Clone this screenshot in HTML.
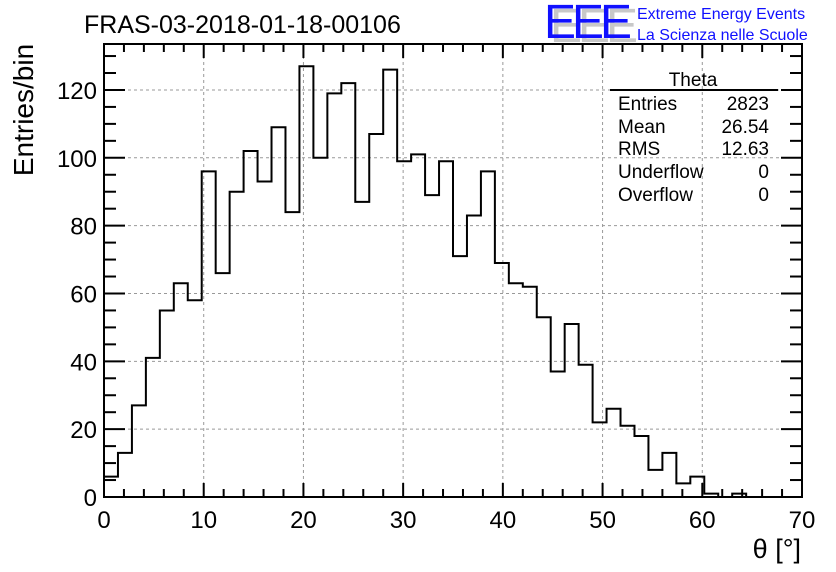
<!DOCTYPE html>
<html><head><meta charset="utf-8"><style>
html,body{margin:0;padding:0;background:#fff;}
svg{display:block;font-family:"Liberation Sans",sans-serif;}
</style></head><body>
<svg id="c" width="836" height="572" viewBox="0 0 836 572">
<rect width="836" height="572" fill="#fff"/>
<g id="grid"></g>
<g id="ticks"></g>
<path id="hist" fill="none" stroke="#000" stroke-width="2"/>
<rect x="104" y="44" width="698" height="453" fill="none" stroke="#000" stroke-width="2"/>
<g id="labels" font-size="24"></g>
<text x="84" y="33" font-size="25">FRAS-03-2018-01-18-00106</text>
<g>
<text x="550" y="42" font-size="48" fill="#c8c8c8" letter-spacing="-4">EEE</text>
<text x="544" y="38" font-size="48" fill="#1010ff" letter-spacing="-4">EEE</text>
<text x="637" y="19" font-size="16" fill="#1010ff">Extreme Energy Events</text>
<text x="637" y="40" font-size="16" fill="#1010ff">La Scienza nelle Scuole</text>
</g>
<text transform="translate(33,110) rotate(-90)" text-anchor="middle" font-size="28">Entries/bin</text>
<text x="801" y="558" text-anchor="end" font-size="27">θ [°]</text>
<g font-size="19">
<line x1="610" y1="90" x2="778" y2="90" stroke="#000" stroke-width="2"/>
<text x="693" y="86" text-anchor="middle">Theta</text>
<text x="618" y="110">Entries</text><text x="769" y="110" text-anchor="end">2823</text>
<text x="618" y="133">Mean</text><text x="769" y="133" text-anchor="end">26.54</text>
<text x="618" y="155">RMS</text><text x="769" y="155" text-anchor="end">12.63</text>
<text x="618" y="178">Underflow</text><text x="769" y="178" text-anchor="end">0</text>
<text x="618" y="201">Overflow</text><text x="769" y="201" text-anchor="end">0</text>
</g>
</svg>
<script>
const binCounts = [6,13,27,41,55,63,58,96,66,90,102,93,109,84,127,100,119,122,87,107,126,99,101,89,99,71,83,96,69,63,62,53,37,51,39,22,26,21,18,8,13,4,6,1,0,1,0,0,0,0];
const xTickLabels = [0,10,20,30,40,50,60,70];
const yTickLabels = [0,20,40,60,80,100,120];
const xMin = 0, xMax = 70, binWidth = 1.4, yMax = 133.55;
const L=104,R=802,T=44,B=497;
const sx = v => L + (v - xMin) / (xMax - xMin) * (R - L);
const sy = v => B - v / yMax * (B - T);
const NS='http://www.w3.org/2000/svg';
function mk(tag, attrs, parent){const e=document.createElementNS(NS,tag);for(const k in attrs)e.setAttribute(k,attrs[k]);parent.appendChild(e);return e;}
const grid=document.getElementById('grid'), ticks=document.getElementById('ticks'), labels=document.getElementById('labels');
xTickLabels.forEach(v=>{
  const x=sx(v);
  if(v>xMin&&v<xMax){const g=mk('line',{x1:x,x2:x,y1:T,y2:B,stroke:'#999','stroke-dasharray':'3,3','stroke-width':1},grid);
  
  }
  const t=mk('text',{x:x,y:528,'text-anchor':'middle'},labels);t.textContent=v;
  
  
});
yTickLabels.forEach(v=>{
  const y=sy(v);
  if(v>0){const g=mk('line',{x1:L,x2:R,y1:y,y2:y,stroke:'#999','stroke-dasharray':'3,3','stroke-width':1},grid);
  
  }
  const t=mk('text',{x:97,y:y+9,'text-anchor':'end'},labels);t.textContent=v;
  
  
});
for(let v=0;v<=70;v+=2){const x=sx(v);const len=(v%10===0)?14:8;
  mk('line',{x1:x,x2:x,y1:B,y2:B-len,stroke:'#000','stroke-width':2},ticks);
  mk('line',{x1:x,x2:x,y1:T,y2:T+len,stroke:'#000','stroke-width':2},ticks);}
for(let v=0;v<=yMax;v+=5){const y=sy(v);const len=(v%20===0)?21:12;
  mk('line',{x1:L,x2:L+len,y1:y,y2:y,stroke:'#000','stroke-width':2},ticks);
  mk('line',{x1:R,x2:R-len,y1:y,y2:y,stroke:'#000','stroke-width':2},ticks);}
let d='M'+sx(0)+','+sy(0);
binCounts.forEach((c,i)=>{const x0=sx(i*binWidth),x1=sx((i+1)*binWidth);d+=' L'+x0+','+sy(c)+' L'+x1+','+sy(c);});
d+=' L'+sx(binCounts.length*binWidth)+','+sy(0);
document.getElementById('hist').setAttribute('d',d);
</script>
</body></html>
